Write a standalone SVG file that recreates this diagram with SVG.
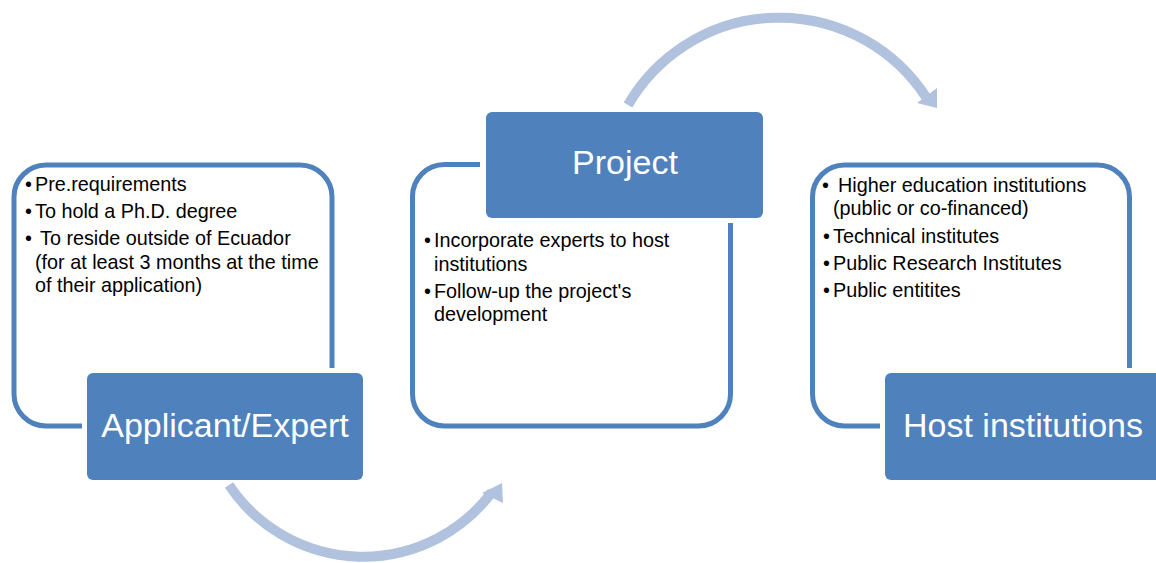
<svg xmlns="http://www.w3.org/2000/svg" width="1156" height="563" viewBox="0 0 1156 563">
  <style>
    .outline { fill: none; stroke: #4F81BD; stroke-width: 5; stroke-linecap: butt; }
    .head { fill: #4F81BD; }
    .title { font-family: "Liberation Sans", Arial, sans-serif; font-size: 34px; fill: #FFFFFF; text-anchor: middle; }
    .body { font-family: "Liberation Sans", Arial, sans-serif; font-size: 19.8px; fill: #000000; }
    .arc { fill: none; stroke: #B1C2DE; stroke-width: 10; }
    .arrowhead { fill: #B1C2DE; }
  </style>
  <rect width="1156" height="563" fill="#FFFFFF"/>

  <g id="connectors">
    <path class="arc" d="M 628 105 A 175 175 0 0 1 926 97"/>
    <polygon class="arrowhead" points="937,108 917,103 937,88"/>
    <path class="arc" d="M 229 485 A 161 161 0 0 0 492 492"/>
    <polygon class="arrowhead" points="502,483 482,493 503,503"/>
  </g>

  <g id="node-applicant">
    <path class="outline" d="M 82 426 L 46 426 A 32 32 0 0 1 14 394 L 14 197 A 32 32 0 0 1 46 165 L 300 165 A 32 32 0 0 1 332 197 L 332 368"/>
    <rect class="head" x="87" y="373" width="276" height="107" rx="6"/>
    <text class="title" x="225" y="437">Applicant/Expert</text>
    <text class="body" x="25" y="191">•</text>
    <text class="body" x="35" y="191">Pre.requirements</text>
    <text class="body" x="25" y="218">•</text>
    <text class="body" x="35" y="218">To hold a Ph.D. degree</text>
    <text class="body" x="25" y="245">•</text>
    <text class="body" x="40" y="245">To reside outside of Ecuador</text>
    <text class="body" x="35" y="269">(for at least 3 months at the time</text>
    <text class="body" x="35" y="292">of their application)</text>
  </g>

  <g id="node-project">
    <path class="outline" d="M 480 164.5 L 444.5 164.5 A 32 32 0 0 0 412.5 196.5 L 412.5 394 A 32 32 0 0 0 444.5 426 L 698.5 426 A 32 32 0 0 0 730.5 394 L 730.5 223"/>
    <rect class="head" x="486" y="112" width="277" height="106" rx="6"/>
    <text class="title" x="625" y="174">Project</text>
    <text class="body" x="424" y="247">•</text>
    <text class="body" x="434" y="247">Incorporate experts to host</text>
    <text class="body" x="434" y="271">institutions</text>
    <text class="body" x="424" y="298">•</text>
    <text class="body" x="434" y="298">Follow-up the project's</text>
    <text class="body" x="434" y="321">development</text>
  </g>

  <g id="node-host">
    <path class="outline" d="M 880 426 L 844.5 426 A 32 32 0 0 1 812.5 394 L 812.5 197 A 32 32 0 0 1 844.5 165 L 1097.5 165 A 32 32 0 0 1 1129.5 197 L 1129.5 368"/>
    <rect class="head" x="885" y="373" width="276" height="107" rx="6"/>
    <text class="title" x="1023" y="437">Host institutions</text>
    <text class="body" x="822" y="192">•</text>
    <text class="body" x="838" y="192">Higher education institutions</text>
    <text class="body" x="833" y="215">(public or co-financed)</text>
    <text class="body" x="823" y="243">•</text>
    <text class="body" x="833" y="243">Technical institutes</text>
    <text class="body" x="823" y="270">•</text>
    <text class="body" x="833" y="270">Public Research Institutes</text>
    <text class="body" x="823" y="297">•</text>
    <text class="body" x="833" y="297">Public entitites</text>
  </g>
</svg>
